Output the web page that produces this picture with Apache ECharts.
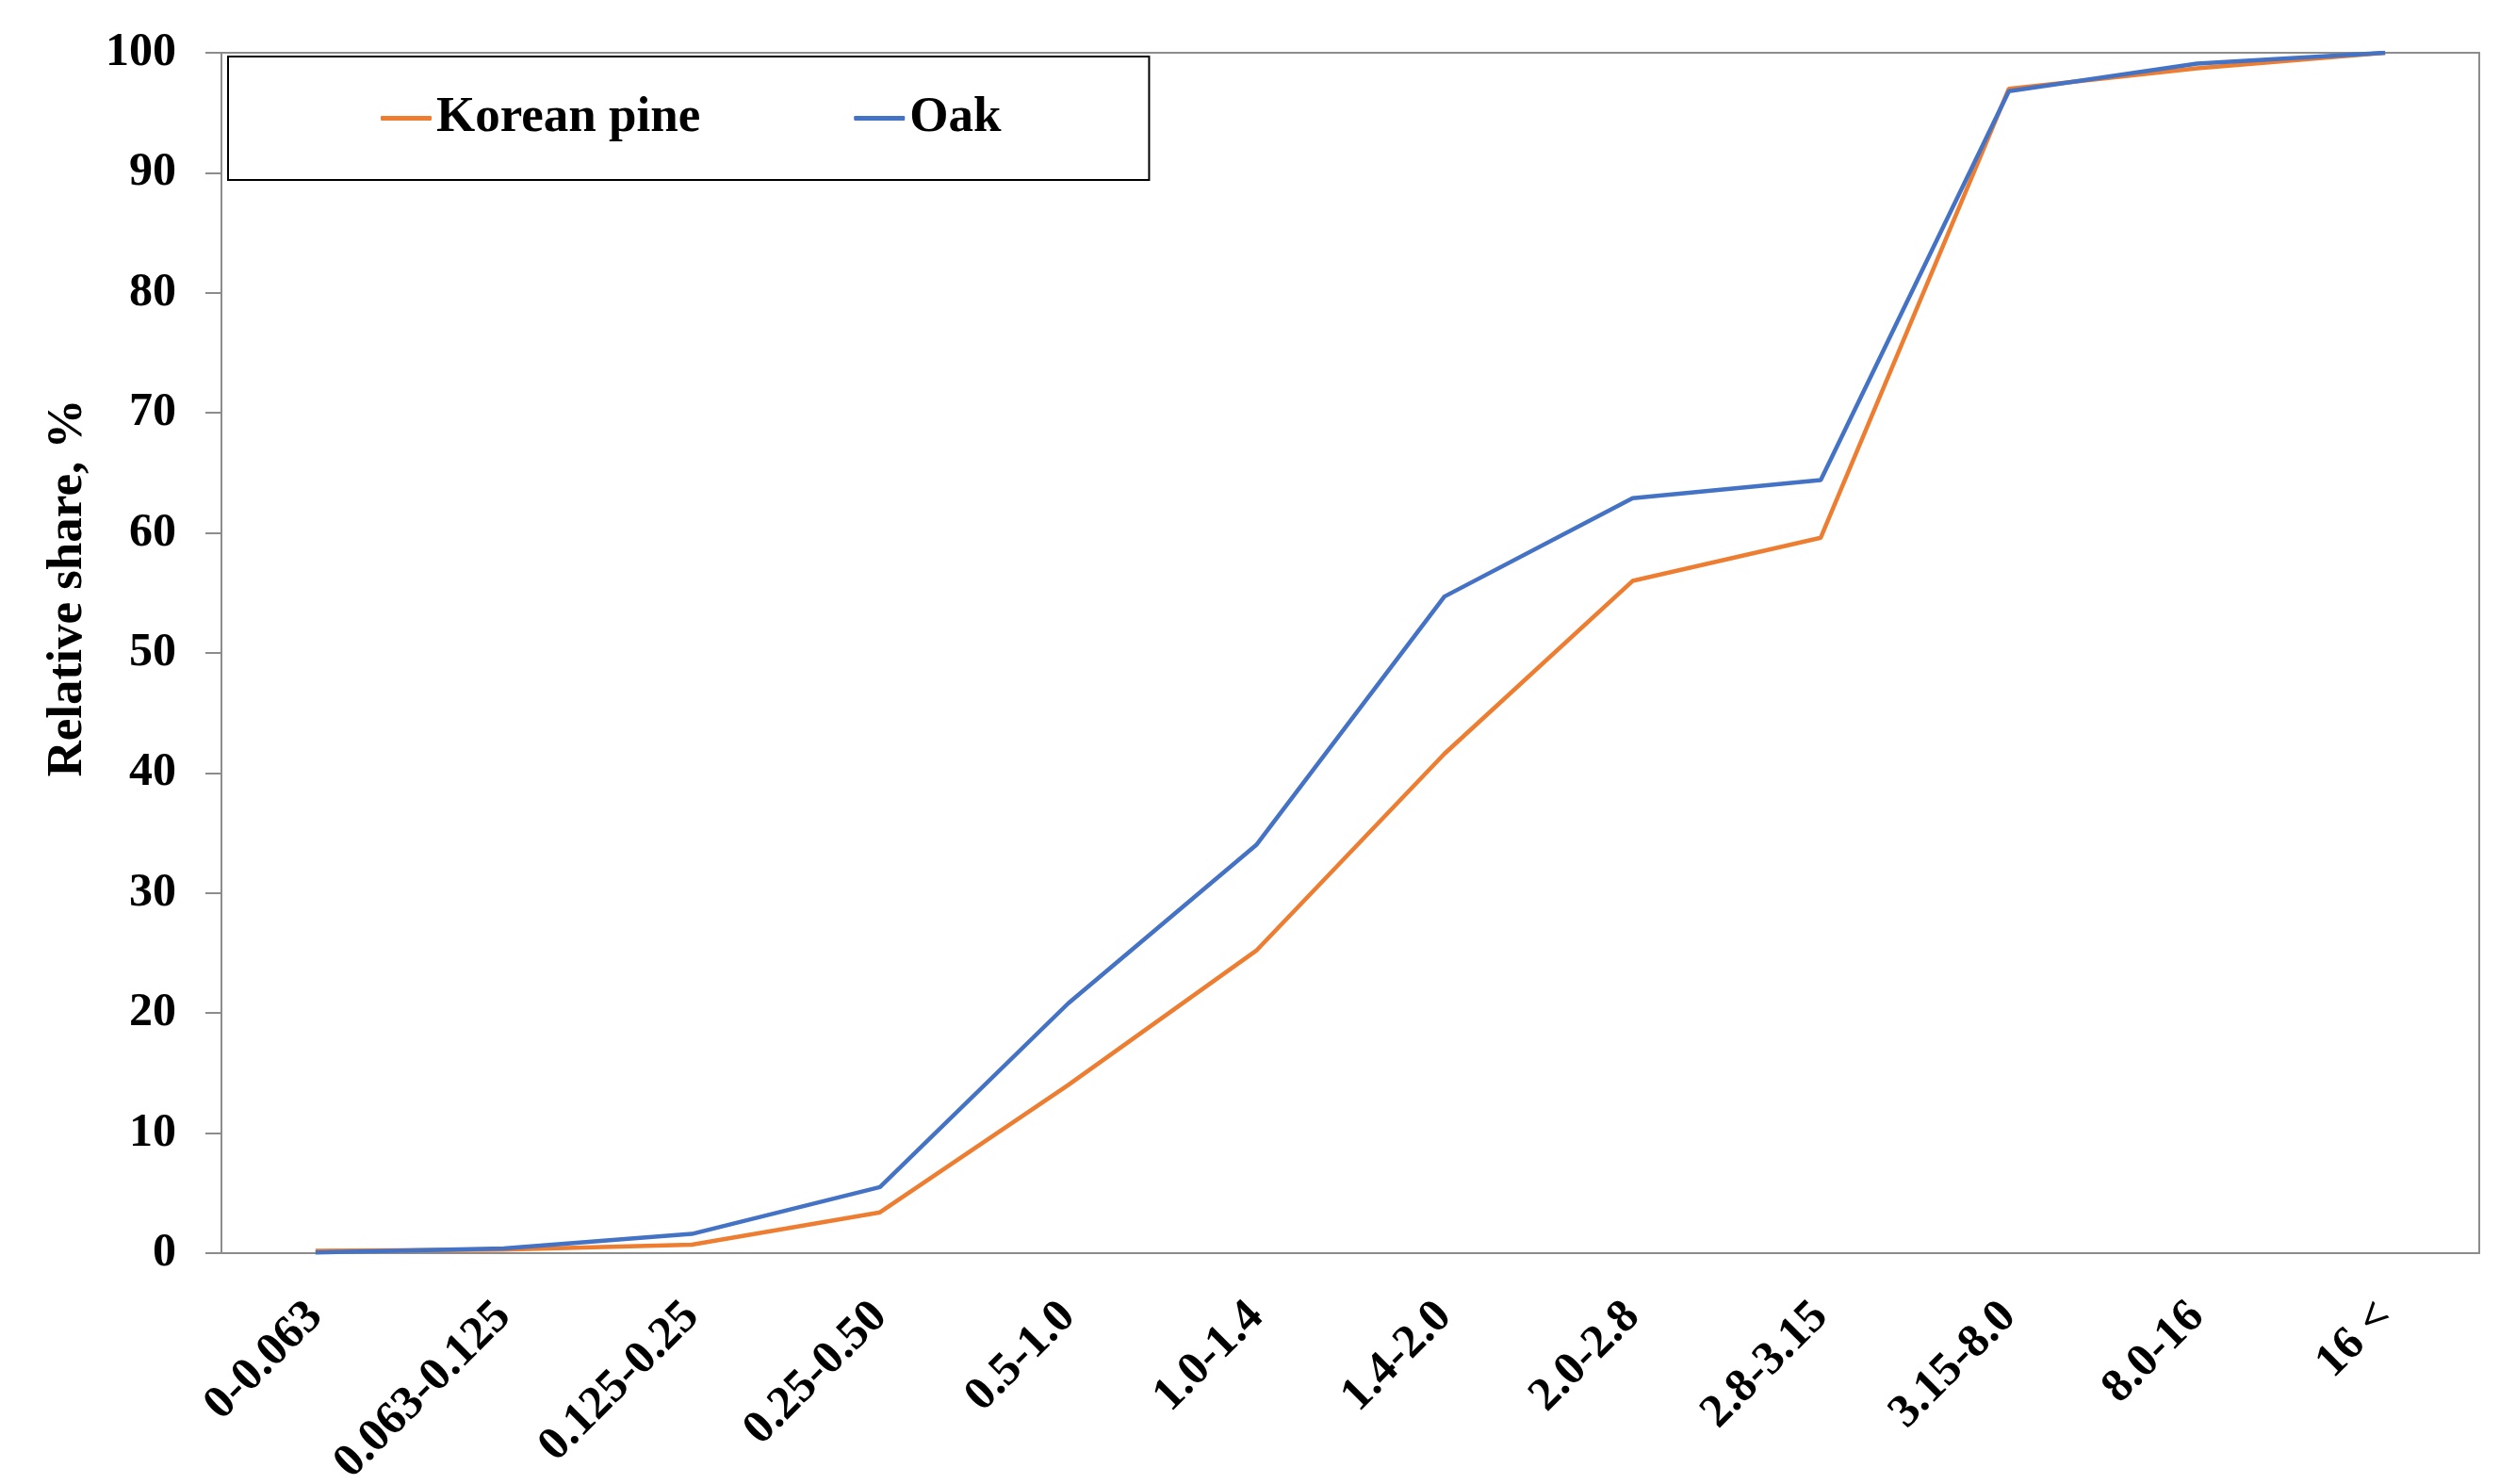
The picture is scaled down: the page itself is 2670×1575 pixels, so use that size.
<!DOCTYPE html>
<html>
<head>
<meta charset="utf-8">
<script src="https://cdn.jsdelivr.net/npm/echarts@6/dist/echarts.min.js"></script>
<style>
  html, body { margin: 0; padding: 0; background: #ffffff; }
  #chart { width: 2670px; height: 1575px; }
</style>
</head>
<body>
<div id="chart"></div>
<script>
// Particle size fractions, mm
const fractions = ['0-0.063', '0.063-0.125', '0.125-0.25', '0.25-0.50', '0.5-1.0', '1.0-1.4',
                   '1.4-2.0', '2.0-2.8', '2.8-3.15', '3.15-8.0', '8.0-16', '16 <'];
// Cumulative relative share, %
const koreanPine = [0.2, 0.3, 0.7, 3.4, 14.0, 25.2, 41.6, 56.0, 59.6, 97.0, 98.7, 100];
const oak        = [0.05, 0.4, 1.6, 5.5, 20.8, 34.0, 54.7, 62.9, 64.4, 96.8, 99.1, 100];
const yTicks = { min: 0, max: 100, step: 10 };

const FONT = '"Liberation Serif", "Times New Roman", serif';
const AXIS_GRAY = '#8c8c8c';

const chart = echarts.init(document.getElementById('chart'), null, { renderer: 'canvas' });

chart.setOption({
  backgroundColor: '#ffffff',
  animation: false,
  grid: {
    left: 235, right: 39, top: 56, bottom: 245,
    outerBoundsMode: 'none',
    containLabel: false,
    show: true, borderColor: AXIS_GRAY, borderWidth: 2, backgroundColor: 'transparent'
  },
  legend: {
    left: 242, top: 60,
    padding: [39, 157, 39, 162],
    itemGap: 163,
    itemWidth: 54, itemHeight: 5,
    icon: 'roundRect',
    borderColor: '#000000', borderWidth: 2,
    textStyle: { fontFamily: FONT, fontWeight: 'bold', fontSize: 53, color: '#000000' },
    data: ['Korean pine', 'Oak']
  },
  xAxis: {
    type: 'category',
    data: fractions,
    boundaryGap: true,
    axisLine: { show: true, lineStyle: { color: AXIS_GRAY, width: 2 } },
    axisTick: { show: false },
    splitLine: { show: false },
    axisLabel: {
      rotate: 45, margin: 60, interval: 0,
      fontFamily: FONT, fontWeight: 'bold', fontSize: 50, color: '#000000'
    }
  },
  yAxis: {
    type: 'value',
    min: yTicks.min, max: yTicks.max, interval: yTicks.step,
    axisLine: { show: true, lineStyle: { color: AXIS_GRAY, width: 2 } },
    axisTick: { show: true, inside: false, length: 17, lineStyle: { color: AXIS_GRAY, width: 2 } },
    splitLine: { show: false },
    axisLabel: {
      margin: 48,
      fontFamily: FONT, fontWeight: 'bold', fontSize: 50, color: '#000000'
    }
  },
  graphic: [{
    type: 'text',
    x: 72, y: 624,
    rotation: Math.PI / 2,
    style: {
      text: 'Relative share, %',
      fontFamily: FONT, fontWeight: 'bold', fontSize: 53,
      fill: '#000000',
      textAlign: 'center', textVerticalAlign: 'middle'
    }
  }],
  series: [
    {
      name: 'Korean pine', type: 'line', data: koreanPine,
      symbol: 'none', smooth: false,
      lineStyle: { color: '#ED7D31', width: 4.5 },
      itemStyle: { color: '#ED7D31' }
    },
    {
      name: 'Oak', type: 'line', data: oak,
      symbol: 'none', smooth: false,
      lineStyle: { color: '#4472C4', width: 4.5 },
      itemStyle: { color: '#4472C4' }
    }
  ]
});
</script>
</body>
</html>
